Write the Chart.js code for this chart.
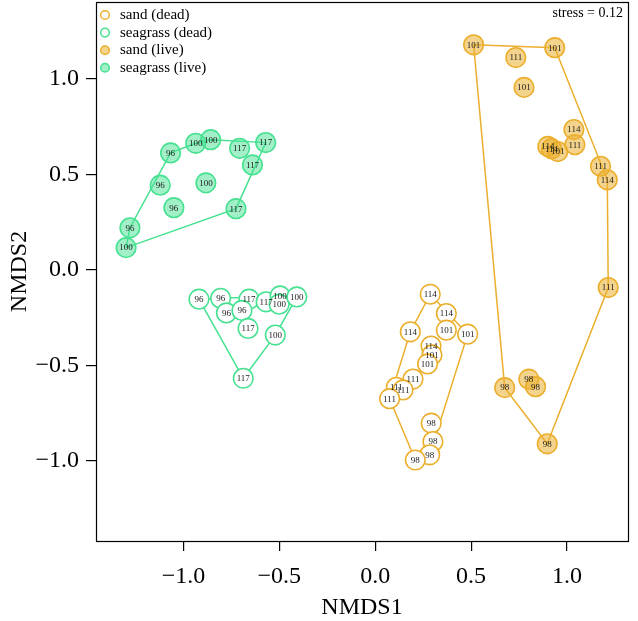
<!DOCTYPE html>
<html>
<head>
<meta charset="utf-8">
<script src="https://cdn.jsdelivr.net/npm/chart.js@4.4.0/dist/chart.umd.min.js"></script>
<style>
  html, body { margin: 0; padding: 0; background: #fff; }
</style>
</head>
<body>
<canvas id="myChart" width="638" height="621"></canvas>
<script>
// NMDS scores, one set of arrays per group
var sandDeadX = [0.287, 0.371, 0.371, 0.482, 0.183, 0.291, 0.296, 0.273, 0.197, 0.110, 0.145, 0.075, 0.292, 0.301, 0.284, 0.209]
var sandDeadY = [-0.128, -0.229, -0.316, -0.337, -0.325, -0.399, -0.446, -0.493, -0.572, -0.615, -0.629, -0.675, -0.803, -0.899, -0.969, -0.996]
var sandDeadSite = ['114', '114', '101', '101', '114', '114', '101', '101', '111', '111', '111', '111', '98', '98', '98', '98']

var seagrassDeadX = [-0.919, -0.806, -0.658, -0.569, -0.496, -0.501, -0.409, -0.776, -0.695, -0.663, -0.521, -0.688]
var seagrassDeadY = [-0.154, -0.149, -0.154, -0.168, -0.137, -0.180, -0.142, -0.226, -0.213, -0.307, -0.342, -0.568]
var seagrassDeadSite = ['96', '96', '117', '117', '100', '100', '100', '96', '96', '117', '100', '117']

var sandLiveX = [0.513, 0.936, 0.733, 0.776, 1.036, 0.900, 0.919, 0.952, 1.041, 1.175, 1.210, 1.215, 0.675, 0.801, 0.836, 0.897]
var sandLiveY = [1.178, 1.163, 1.111, 0.955, 0.734, 0.646, 0.634, 0.619, 0.655, 0.542, 0.471, -0.093, -0.617, -0.573, -0.612, -0.911]
var sandLiveSite = ['101', '101', '111', '101', '114', '114', '114', '101', '111', '111', '114', '111', '98', '98', '98', '98']

var seagrassLiveX = [-1.067, -0.936, -0.858, -0.707, -0.571, -0.640, -1.121, -0.883, -1.050, -0.726, -1.279, -1.299]
var seagrassLiveY = [0.612, 0.662, 0.681, 0.636, 0.666, 0.549, 0.443, 0.455, 0.325, 0.320, 0.220, 0.116]
var seagrassLiveSite = ['96', '100', '100', '117', '117', '117', '96', '100', '96', '117', '96', '100']

var groupNames = ['sand (dead)', 'seagrass (dead)', 'sand (live)', 'seagrass (live)']
var xTicks = [-1.0, -0.5, 0.0, 0.5, 1.0]
var yTicks = [-1.0, -0.5, 0.0, 0.5, 1.0]
var tickLabels = ['\u22121.0', '\u22120.5', '0.0', '0.5', '1.0']
var stressText = 'stress = 0.12'

var SAND = 'rgb(235,175,45)'
var SAND_FILL = 'rgba(235,175,45,0.55)'
var GRASS = 'rgb(70,225,145)'
var GRASS_FILL = 'rgba(70,225,145,0.5)'
var SERIF = "'Liberation Serif', 'DejaVu Serif', serif"

function toPoints(xs, ys) {
    return xs.map(function(x, i) { return {x: x, y: ys[i]} })
}

// convex hull (monotone chain), closed back onto its first point
function hull(xs, ys) {
    var pts = toPoints(xs, ys).sort(function(a, b) { return a.x - b.x || a.y - b.y })
    var cross = function(o, a, b) { return (a.x - o.x) * (b.y - o.y) - (a.y - o.y) * (b.x - o.x) }
    var lower = [], upper = []
    pts.forEach(function(p) {
        while (lower.length >= 2 && cross(lower[lower.length - 2], lower[lower.length - 1], p) <= 0) lower.pop()
        lower.push(p)
    })
    pts.slice().reverse().forEach(function(p) {
        while (upper.length >= 2 && cross(upper[upper.length - 2], upper[upper.length - 1], p) <= 0) upper.pop()
        upper.push(p)
    })
    lower.pop(); upper.pop()
    var h = lower.concat(upper)
    h.push(h[0])
    return h
}

function pointSet(label, xs, ys, sites, border, fill) {
    return {
        label: label, data: toPoints(xs, ys), sites: sites,
        pointRadius: 9.8, pointHoverRadius: 9.8, pointBorderWidth: 1.6,
        borderColor: border, backgroundColor: fill, order: 0
    }
}

function hullSet(xs, ys, color) {
    return {
        label: 'hull', data: hull(xs, ys), showLine: true, pointRadius: 0,
        borderColor: color, borderWidth: 1.5, fill: false, tension: 0, order: 5
    }
}

var groups = [
    pointSet(groupNames[0], sandDeadX, sandDeadY, sandDeadSite, SAND, '#ffffff'),
    pointSet(groupNames[1], seagrassDeadX, seagrassDeadY, seagrassDeadSite, GRASS, '#ffffff'),
    pointSet(groupNames[2], sandLiveX, sandLiveY, sandLiveSite, SAND, SAND_FILL),
    pointSet(groupNames[3], seagrassLiveX, seagrassLiveY, seagrassLiveSite, GRASS, GRASS_FILL)
]

// site numbers written inside each circle
var siteLabels = {
    id: 'siteLabels',
    afterDatasetsDraw: function(chart) {
        var ctx = chart.ctx
        ctx.save()
        ctx.font = '9px ' + SERIF
        ctx.fillStyle = '#1a1a1a'
        ctx.textAlign = 'center'
        ctx.textBaseline = 'middle'
        chart.data.datasets.forEach(function(ds, i) {
            if (!ds.sites) return
            chart.getDatasetMeta(i).data.forEach(function(el, j) {
                ctx.fillText(ds.sites[j], el.x, el.y + 0.5)
            })
        })
        ctx.restore()
    }
}

// box round the plot, legend in the top-left corner, stress note top-right
var frame = {
    id: 'frame',
    afterDraw: function(chart) {
        var ctx = chart.ctx, a = chart.chartArea
        ctx.save()
        ctx.strokeStyle = '#000'
        ctx.lineWidth = 1.2
        ctx.strokeRect(Math.round(a.left) + 0.5, Math.round(a.top) + 0.5,
            Math.round(a.right - a.left), Math.round(a.bottom - a.top))

        ctx.font = '15px ' + SERIF
        ctx.textBaseline = 'middle'
        groups.forEach(function(g, i) {
            var y = a.top + 13 + i * 17.6
            ctx.beginPath()
            ctx.arc(a.left + 9, y, 4.3, 0, Math.PI * 2)
            ctx.fillStyle = g.backgroundColor
            ctx.fill()
            ctx.lineWidth = 1.5
            ctx.strokeStyle = g.borderColor
            ctx.stroke()
            ctx.fillStyle = '#000'
            ctx.textAlign = 'left'
            ctx.fillText(g.label, a.left + 24, y)
        })

        ctx.font = '14px ' + SERIF
        ctx.textAlign = 'right'
        ctx.fillText(stressText, a.right - 5, a.top + 11)
        ctx.restore()
    }
}

function axis(ticksList, title, isX) {
    return {
        type: 'linear',
        position: isX ? 'bottom' : 'left',
        min: isX ? -1.456 : -1.420,
        max: isX ? 1.318 : 1.402,
        afterBuildTicks: function(scale) {
            scale.ticks = ticksList.map(function(v) { return {value: v} })
        },
        afterFit: function(scale) {
            // the plot box is fixed, no room kept for half tick labels
            if (isX) {
                scale.height = 80
                scale.paddingLeft = 0
                scale.paddingRight = 0
            } else {
                scale.width = 96
                scale.paddingTop = 0
                scale.paddingBottom = 0
            }
        },
        grid: {drawOnChartArea: false, drawTicks: true, tickLength: 10, color: '#000', lineWidth: 1.2},
        border: {display: false},
        ticks: {
            color: '#000',
            font: {family: SERIF, size: 24},
            padding: isX ? 11 : 7,
            maxRotation: 0,
            autoSkip: false,
            callback: function(v) { return tickLabels[ticksList.indexOf(v)] }
        },
        title: {
            display: true, text: title, color: '#000',
            font: {family: SERIF, size: 24},
            padding: isX ? {top: 0, bottom: -1} : {top: 5, bottom: 0}
        }
    }
}

document.addEventListener('DOMContentLoaded', () => {
    var ctx = document.getElementById('myChart').getContext('2d')
    var chart = new Chart(ctx, {
        type: 'scatter',
        data: {
            datasets: [
                hullSet(sandDeadX, sandDeadY, SAND),
                hullSet(seagrassDeadX, seagrassDeadY, GRASS),
                hullSet(sandLiveX, sandLiveY, SAND),
                hullSet(seagrassLiveX, seagrassLiveY, GRASS)
            ].concat(groups)
        },
        options: {
            responsive: false,
            animation: false,
            devicePixelRatio: 1,
            layout: {autoPadding: false, padding: {top: 2, right: 10, bottom: 0, left: 0}},
            plugins: {legend: {display: false}, tooltip: {enabled: false}},
            scales: {
                x: axis(xTicks, 'NMDS1', true),
                y: axis(yTicks, 'NMDS2', false)
            }
        },
        plugins: [siteLabels, frame]
    })
})
</script>
</body>
</html>
